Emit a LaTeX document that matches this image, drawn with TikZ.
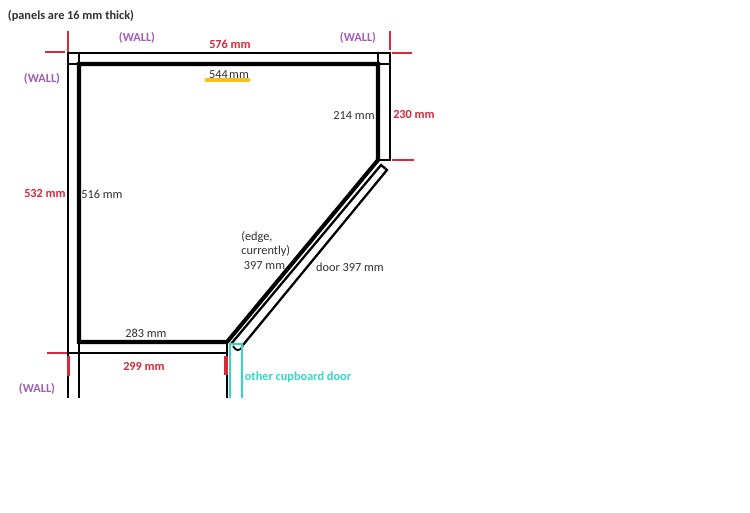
\documentclass[tikz,border=0pt]{standalone}
\usepackage{fontspec}
\setmainfont{Carlito}
\definecolor{wallred}{HTML}{D8283A}
\definecolor{wallpurple}{HTML}{A45CB4}
\definecolor{doorteal}{HTML}{2FD9C6}
\definecolor{markyellow}{HTML}{F5C21B}
\definecolor{labelgray}{HTML}{303030}
\tikzset{
  thinpanel/.style={line width=1.3pt,black},
  thickpanel/.style={line width=2.3pt,black},
  redtick/.style={line width=1.5pt,wallred},
  walllabel/.style={font=\bfseries\fontsize{7}{9}\selectfont,wallpurple},
  redlabel/.style={font=\bfseries\fontsize{7}{9}\selectfont,wallred},
  sizelabel/.style={font=\fontsize{7}{8.2}\selectfont,labelgray}
}

\begin{document}
\begin{tikzpicture}[x=0.02cm,y=-0.02cm]
      \useasboundingbox (0,0) rectangle (750,513);

      % outer and inner panel lines
      \draw[thinpanel] (68,398) -- (68,53) -- (390,53) -- (390,160) -- (378,160);
      \draw[thinpanel] (68,64) -- (79,64) -- (79,53);
      \draw[thinpanel] (378,53) -- (378,64) -- (390,64);
      \draw[thinpanel] (79,342) -- (79,398);
      \draw[thinpanel] (68,353) -- (227,353);
      \draw[thinpanel] (227,342) -- (227,398);
      \draw[thickpanel] (227,342) -- (79,342) -- (79,64) -- (378,64) -- (378,160) -- (227,342);

      % door
      \draw[thinpanel] (231,344) -- (381,165) -- (387,170) -- (243,345);
      \draw[line width=1pt] (233,346) .. controls (236,351) and (239,352) .. (243,346);

      % other cupboard door
      \draw[line width=1.3pt,doorteal] (230,398) -- (230,344) -- (243,344);
      \draw[line width=1.3pt,doorteal] (242,344) -- (242,398);

      % wall corners
      \draw[redtick] (68,31) -- (68,52);
      \draw[redtick] (45,52) -- (65,52);
      \draw[redtick] (390,31) -- (390,50);
      \draw[redtick] (392,53) -- (412,53);
      \draw[redtick] (392,160) -- (414,160);
      \draw[redtick] (47,353) -- (67,353);
      \draw[line width=2pt,wallred] (68.5,356) -- (68.5,376);
      \draw[line width=2pt,wallred] (226,356) -- (226,375);
      \draw[line width=1.8pt,markyellow,line cap=round] (206,80) -- (249,80);

      \node[font=\bfseries\fontsize{7}{9}\selectfont,labelgray] (panels) at (71,16) {(panels are 16 mm thick)};
      \node[walllabel] (walltop) at (137,38) {(WALL)};
      \node[walllabel] (wallright) at (358,38) {(WALL)};
      \node[walllabel] (wallleft) at (42,79) {(WALL)};
      \node[walllabel] (wallbottom) at (37,389) {(WALL)};
      \node[redlabel] (outertop) at (230,44) {576 mm};
      \node[redlabel] (outerright) at (414,115) {230 mm};
      \node[redlabel] (outerleft) at (45,194) {532 mm};
      \node[redlabel] (outerbottom) at (144,366) {299 mm};
      \node[sizelabel] (innertop) at (229,75) {544\kern0.8pt mm};
      \node[sizelabel] (innerright) at (354,116) {214 mm};
      \node[sizelabel] (innerleft) at (102,194) {516 mm};
      \node[sizelabel] (innerbottom) at (146,333) {283 mm};
      \node[sizelabel,align=left,anchor=north west,inner sep=0pt] (edge) at (241,231) {(edge,\\currently)\\\hspace{1.5pt}397 mm};
      \node[sizelabel] (door) at (350,267) {door 397 mm};
      \node[font=\bfseries\fontsize{7}{9}\selectfont,doorteal] (cupboard) at (298,377) {other cupboard door};
    \end{tikzpicture}
\end{document}
